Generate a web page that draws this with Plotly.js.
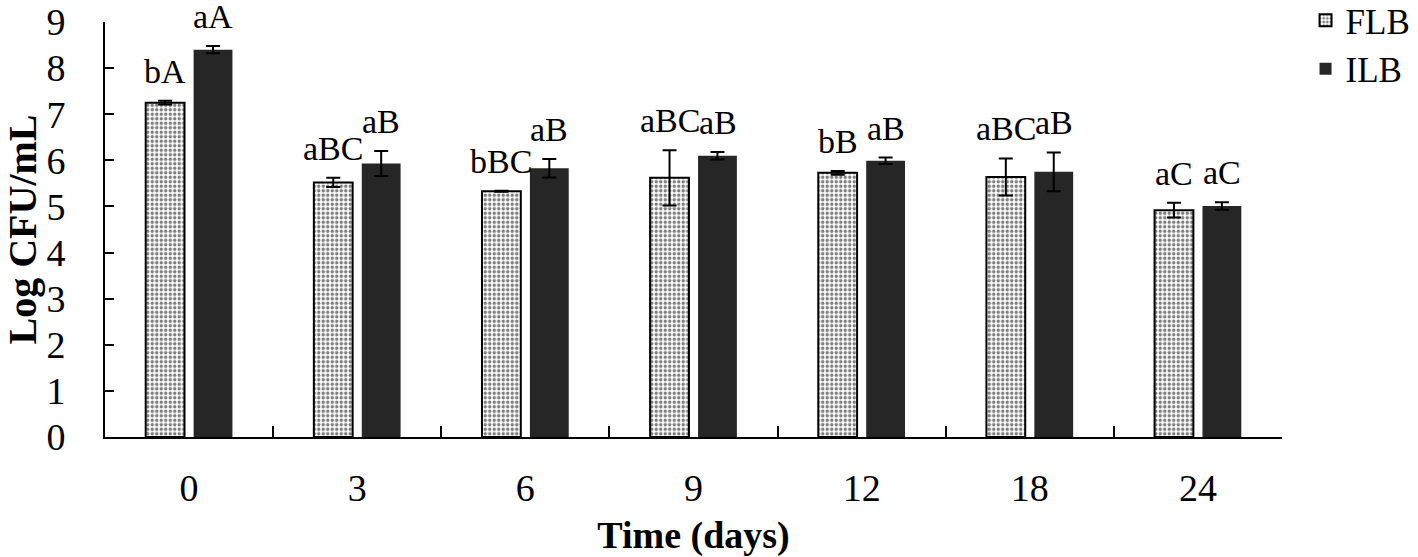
<!DOCTYPE html>
<html>
<head>
<meta charset="utf-8">
<script src="https://cdn.plot.ly/plotly-3.0.1.min.js"></script>
<style>html,body{margin:0;padding:0;background:#fff;}#chart{width:1418px;height:557px;}</style>
</head>
<body>
<div id="chart"></div>
<script>
const categories = ["0", "3", "6", "9", "12", "18", "24"];
const flbValues = [7.25, 5.52, 5.33, 5.62, 5.73, 5.64, 4.92];
const flbErrors = [0.04, 0.10, 0.01, 0.60, 0.04, 0.40, 0.16];
const ilbValues = [8.40, 5.93, 5.83, 6.10, 5.99, 5.75, 5.01];
const ilbErrors = [0.08, 0.27, 0.20, 0.08, 0.07, 0.42, 0.08];
const flbLabels = ["bA", "aBC", "bBC", "aBC", "bB", "aBC", "aC"];
const ilbLabels = ["aA", "aB", "aB", "aB", "aB", "aB", "aC"];

const FONT = "Liberation Serif, Times New Roman, serif";

const traces = [
  {
    type: "bar", name: "FLB", x: categories, y: flbValues,
    marker: {color: "#ffffff", line: {color: "#000000", width: 2},
             pattern: {shape: ".", fgcolor: "#000000", bgcolor: "#ffffff", size: 4.5, solidity: 0.45, fillmode: "overlay"}},
    error_y: {type: "data", array: flbErrors, visible: true, color: "#000000", thickness: 2, width: 7}
  },
  {
    type: "bar", name: "ILB", x: categories, y: ilbValues,
    marker: {color: "#262626", line: {width: 0}},
    error_y: {type: "data", array: ilbErrors, visible: true, color: "#000000", thickness: 2, width: 7}
  }
];

const annotations = [];
categories.forEach((c, i) => {
  annotations.push({x: i, y: flbValues[i] + flbErrors[i], text: flbLabels[i], showarrow: false,
    xanchor: "center", yanchor: "bottom", xshift: -24, yshift: 9, font: {family: FONT, size: 34, color: "#000"}});
  annotations.push({x: i, y: ilbValues[i] + ilbErrors[i], text: ilbLabels[i], showarrow: false,
    xanchor: "center", yanchor: "bottom", xshift: 24, yshift: 9, font: {family: FONT, size: 34, color: "#000"}});
});

const layout = {
  width: 1418, height: 557,
  margin: {l: 105, r: 136, t: 22, b: 120, pad: 0, autoexpand: false},
  paper_bgcolor: "#ffffff", plot_bgcolor: "#ffffff",
  font: {family: FONT, color: "#000000", size: 38},
  barmode: "group", bargap: 0.43, bargroupgap: 0.19,
  showlegend: true,
  legend: {x: 1.02, y: 1.075, xanchor: "left", yanchor: "top", font: {family: FONT, size: 35, color: "#000"},
           bgcolor: "rgba(0,0,0,0)", tracegroupgap: 0},
  xaxis: {type: "category", range: [-0.5, 6.5], showline: true, linecolor: "#000", linewidth: 2, ticks: "inside", tickson: "boundaries",
          ticklen: 11, tickwidth: 2, tickcolor: "#000", showgrid: false, zeroline: false,
          ticklabelstandoff: 16, tickfont: {family: FONT, size: 38, color: "#000"},
          title: {text: "<b>Time (days)</b>", font: {family: FONT, size: 38, color: "#000"}, standoff: 22}},
  yaxis: {range: [0, 9], dtick: 1, showline: true, linecolor: "#000", linewidth: 2, ticks: "inside",
          ticklen: 9, tickwidth: 2, tickcolor: "#000", showgrid: false, zeroline: false,
          ticklabelstandoff: 30, tickfont: {family: FONT, size: 38, color: "#000"},
          title: {text: "<b>Log CFU/mL</b>", font: {family: FONT, size: 40, color: "#000"}, standoff: 6}},
  annotations: annotations
};

Plotly.newPlot("chart", traces, layout, {displayModeBar: false, staticPlot: true});
</script>
</body>
</html>
